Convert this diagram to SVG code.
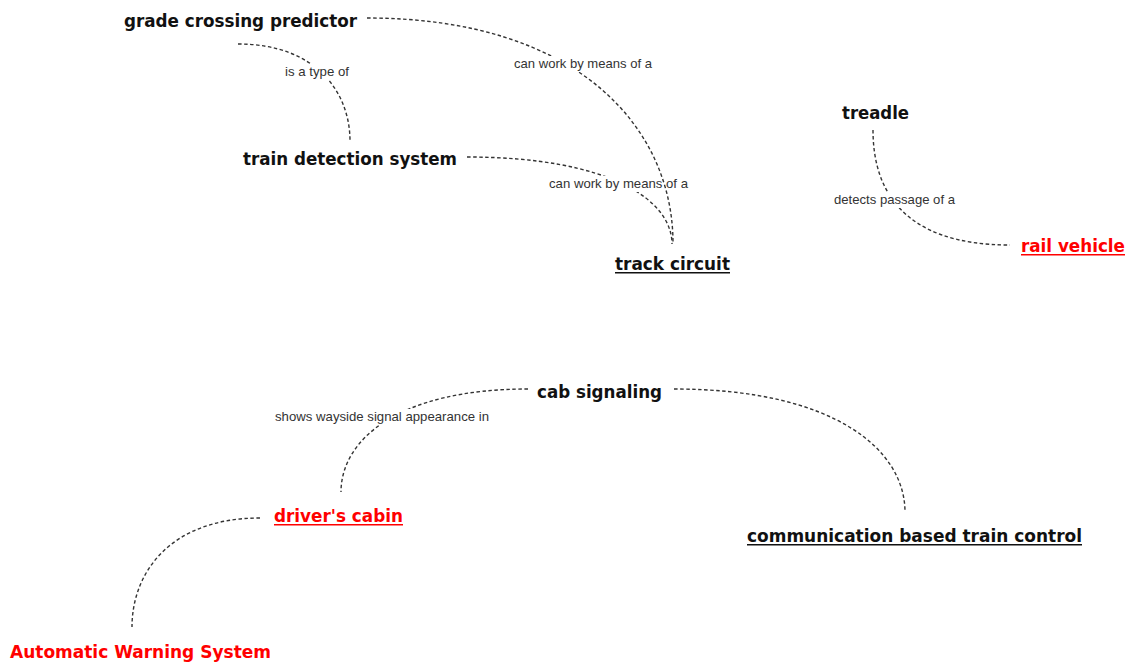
<svg xmlns="http://www.w3.org/2000/svg" width="1134" height="669" viewBox="0 0 1134 669">
  <style>
    .node { font-family: "DejaVu Sans Condensed", "DejaVu Sans", Verdana, sans-serif; font-weight: bold; font-size: 18px; fill: #111; }
    .node.link { fill: #ff0000; }
    .uline { stroke: #111; stroke-width: 1.4; }
    .uline.link { stroke: #ff0000; }
    .edge { fill: none; stroke: #333; stroke-width: 1.4; stroke-dasharray: 3.5 2.5; }
    .lbg { fill: #fff; }
    .lbl { font-family: "Liberation Sans", Arial, sans-serif; font-size: 13px; fill: #333; text-anchor: middle; }
  </style>
  <rect width="1134" height="669" fill="#fff"/>

  <g id="connectors">
    <g id="e-tds-tc">
      <path class="edge" d="M467,157 C610.5,157 672,200.5 672,244"/>
      <rect class="lbg" x="547" y="176" width="143" height="16"/>
      <text class="lbl" x="618.5" y="188" textLength="139" lengthAdjust="spacingAndGlyphs">can work by means of a</text>
    </g>
    <g id="e-gcp-tds">
      <path class="edge" d="M238,44 C316.4,44 350,92.5 350,141"/>
      <rect class="lbg" x="283" y="64" width="68" height="16"/>
      <text class="lbl" x="317" y="76" textLength="64" lengthAdjust="spacingAndGlyphs">is a type of</text>
    </g>
    <g id="e-gcp-tc">
      <path class="edge" d="M367,18 C581.2,18 673,130.5 673,243"/>
      <rect class="lbg" x="512" y="56" width="142" height="16"/>
      <text class="lbl" x="583" y="68" textLength="138" lengthAdjust="spacingAndGlyphs">can work by means of a</text>
    </g>
    <g id="e-treadle-rv">
      <path class="edge" d="M873,130 C873,187.5 900.4,245 1010,245"/>
      <rect class="lbg" x="832" y="192" width="125" height="16"/>
      <text class="lbl" x="894.5" y="204" textLength="121" lengthAdjust="spacingAndGlyphs">detects passage of a</text>
    </g>
    <g id="e-cab-dc">
      <path class="edge" d="M528,389 C397.1,389 341,440.5 341,492"/>
      <rect class="lbg" x="273" y="409" width="218" height="16"/>
      <text class="lbl" x="382" y="421" textLength="214" lengthAdjust="spacingAndGlyphs">shows wayside signal appearance in</text>
    </g>
    <g id="e-cab-cbtc">
      <path class="edge" d="M674,389 C835.7,389 905,450.5 905,512"/>
    </g>
    <g id="e-dc-aws">
      <path class="edge" d="M260,518 C170.4,518 132,572.5 132,627"/>
    </g>
  </g>

  <g id="n-gcp">
    <text class="node" x="124" y="27" textLength="233" lengthAdjust="spacingAndGlyphs">grade crossing predictor</text>
  </g>
  <g id="n-tds">
    <text class="node" x="243" y="165" textLength="214" lengthAdjust="spacingAndGlyphs">train detection system</text>
  </g>
  <g id="n-tc">
    <text class="node" x="615" y="270" textLength="115" lengthAdjust="spacingAndGlyphs">track circuit</text>
    <line class="uline" x1="615" y1="272.7" x2="730" y2="272.7"/>
  </g>
  <g id="n-treadle">
    <text class="node" x="842" y="119" textLength="67" lengthAdjust="spacingAndGlyphs">treadle</text>
  </g>
  <g id="n-rv">
    <text class="node link" x="1021" y="252" textLength="104" lengthAdjust="spacingAndGlyphs">rail vehicle</text>
    <line class="uline link" x1="1021" y1="254.7" x2="1125" y2="254.7"/>
  </g>
  <g id="n-cab">
    <text class="node" x="537" y="398" textLength="125" lengthAdjust="spacingAndGlyphs">cab signaling</text>
  </g>
  <g id="n-dc">
    <text class="node link" x="274" y="522" textLength="129" lengthAdjust="spacingAndGlyphs">driver's cabin</text>
    <line class="uline link" x1="274" y1="524.7" x2="403" y2="524.7"/>
  </g>
  <g id="n-cbtc">
    <text class="node" x="747" y="542" textLength="335" lengthAdjust="spacingAndGlyphs">communication based train control</text>
    <line class="uline" x1="747" y1="544.7" x2="1082" y2="544.7"/>
  </g>
  <g id="n-aws">
    <text class="node link" x="10" y="658" textLength="261" lengthAdjust="spacingAndGlyphs">Automatic Warning System</text>
  </g>
</svg>
